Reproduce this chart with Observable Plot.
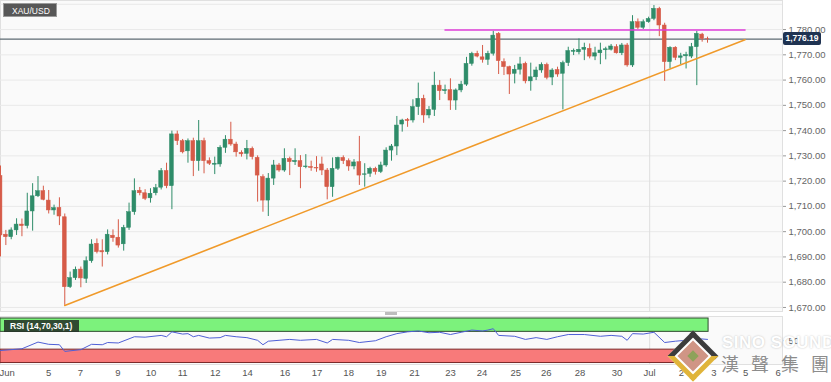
<!DOCTYPE html>
<html><head><meta charset="utf-8">
<script src="https://cdn.jsdelivr.net/npm/d3@7"></script>
<script src="https://cdn.jsdelivr.net/npm/@observablehq/plot@0.6"></script>
<style>
body{margin:0;background:#fff;}
#wrap{position:relative;width:831px;height:382px;overflow:hidden;font-family:"Liberation Sans",Arial,sans-serif;}
#main,#rsi{position:absolute;left:0;}
#main{top:0}
#rsi{top:316px}
.sym{position:absolute;left:3px;top:3px;width:54px;height:14px;background:#575757;color:#fff;font-size:8.5px;line-height:14px;padding-left:8px;box-sizing:border-box;border:1px solid #9a9a9a;}
.rsilbl{position:absolute;left:4px;top:320px;width:75px;height:12px;background:rgba(38,50,40,0.88);color:#fff;font-size:8.5px;font-weight:bold;line-height:12px;padding-left:6px;box-sizing:border-box;}
.handle{position:absolute;left:385px;top:312px;width:12px;height:3px;background:#bdbdbd;}
.tag{position:absolute;left:783px;width:38px;height:13px;background:#1f3352;color:#fff;font-size:8.5px;font-weight:bold;line-height:13px;text-align:center;border-radius:2px;}
.logo{position:absolute;left:675px;top:338px;width:22px;height:22px;transform:rotate(45deg);border:5px solid;border-color:#3c3c3c #e0b43a #e0b43a #3c3c3c;background:#fff;padding:2px;box-sizing:content-box;}
.logo .in{width:22px;height:22px;background:#d09585;position:relative;}
.logo .in div{position:absolute;left:7px;top:7px;width:8px;height:8px;background:#8ea25a;}
.wm1{position:absolute;left:722px;top:333px;font-size:17px;font-weight:bold;color:#fff;text-shadow:0 0 2px rgba(0,0,0,0.25);white-space:nowrap;letter-spacing:0.5px;}
.wm2{position:absolute;left:721px;top:350px;font-size:18px;color:#8c8c8c;font-family:"Noto Sans CJK TC",sans-serif;white-space:nowrap;letter-spacing:12px;text-shadow:0 0 2px #fff;}
</style>
</head><body>
<div id="wrap">
  <div id="main"></div>
  <div id="rsi"></div>
</div>
<script>
// ---- data (4-hour XAU/USD candles) ----
const symbol = "XAU/USD";
const open = [1722,1698.8,1697.8,1700.5,1702.8,1702.2,1708,1714,1716,1712.3,
1708.4,1709.4,1705.7,1678,1681.6,1685,1681.3,1688.3,1695.2,1692.3,
1691.9,1698.4,1697.6,1695,1701.5,1707.7,1716.2,1715.2,1713.2,1715.2,
1717.4,1724,1718,1738.5,1735.8,1731.8,1735.8,1727.9,1735.8,1727.9,
1726.5,1726.6,1733.2,1736.4,1734.5,1731.2,1730.8,1732.8,1729.2,1721.6,
1712.3,1721,1726.2,1724.2,1728.8,1727.5,1727.9,1725.5,1725.6,1725.2,
1726.6,1724.2,1717.6,1724.9,1729.2,1727.9,1725.8,1727.5,1722.5,1722.9,
1724.9,1723.6,1726.2,1732.1,1733.7,1742.4,1744.2,1744,1749.3,1752.6,
1746,1748.2,1757.8,1755.6,1756,1751.9,1755.9,1758.2,1766.4,1770.4,
1769,1768,1770.4,1778.3,1767.1,1765.1,1762.5,1764.1,1766.4,1759.5,
1761.1,1763.8,1766,1761,1764,1762.5,1766.7,1771.2,1771,1772,
1772.4,1769.3,1770.6,1771.8,1772,1773,1770.6,1773.7,1765.8,1782.9,
1780.7,1782.9,1784.2,1788.2,1781.6,1767.1,1772.8,1768.8,1769.4,1769.3,
1773,1778,1776.3];
const high = [1726,1700.5,1701.5,1705.1,1705,1715.2,1719,1721.8,1718,1716.3,
1710.5,1713.4,1707,1684,1686,1686,1690,1696.8,1697.1,1696.8,
1700.7,1700.7,1704.7,1702.5,1711.3,1720.9,1717.5,1716.6,1717,1718.7,
1725,1727.1,1739.8,1739.8,1736.5,1736.7,1737,1744,1737,1729.2,
1729.5,1734,1738,1743.3,1735.4,1732,1736.1,1733.5,1730,1722.5,
1723,1728.2,1727,1732.8,1729.5,1732.8,1730.1,1730.5,1727.9,1729.7,
1729.5,1725,1729.2,1729.5,1730,1728.8,1728.5,1737.7,1726.9,1725.5,
1725.5,1727.5,1733.2,1734.5,1745.6,1744.5,1744.8,1752.2,1758.8,1754,
1749.5,1763.1,1759.8,1758,1760.5,1756.5,1759.5,1769,1771,1771.4,
1773.7,1771.4,1779.3,1778.8,1768.4,1765.5,1765.8,1769,1767.1,1766.7,
1765.1,1766.8,1766.7,1764.5,1765.1,1767.5,1773,1772.3,1776.3,1774.6,
1774.3,1773,1774.6,1773,1774.1,1774,1774.5,1774.5,1785.5,1784.2,
1783.8,1784.9,1789.5,1788.8,1782.5,1773.2,1773.2,1770.6,1771,1774.5,
1779.3,1778.5,1777];
const low = [1690,1694.5,1696.8,1698.5,1698,1701.1,1700.2,1713.5,1712.2,1707,
1706.5,1702.4,1670.8,1677.5,1680.7,1677.8,1679.5,1687.5,1691.2,1686,
1690.8,1695.8,1693.5,1692.3,1700.5,1706.5,1714.2,1712.3,1711.3,1714.2,
1716.5,1717,1708.7,1734.1,1730.8,1727.1,1721.8,1723.9,1722.9,1726.2,
1722.6,1725.5,1731,1733.8,1729.5,1729.5,1728.4,1728.4,1711.7,1707.7,
1706,1718.3,1723.5,1723.5,1722.2,1726.2,1717,1724.9,1723.9,1723.5,
1722.2,1712.6,1713.6,1724.2,1726.6,1723.9,1724.5,1718.3,1717.6,1721.5,
1722.4,1723,1725.5,1727.9,1730.1,1739.4,1741.3,1743,1746,1742.9,
1744.7,1745.6,1751.9,1754.3,1748,1748,1755,1757.5,1765.5,1768.8,
1766.7,1765.8,1769.5,1762.2,1761.8,1754.3,1758.5,1762,1758.5,1755.6,
1759.8,1762.7,1760.1,1757.8,1761.1,1748.2,1765.4,1769.7,1770,1767.7,
1768.4,1767.7,1766.1,1768,1771.5,1770.3,1769.7,1765.1,1765,1780,
1780,1782.5,1783.5,1777.2,1759.5,1764.5,1767.7,1766.1,1764.4,1768.5,
1757.8,1775,1774.6];
const close = [1698.5,1697.8,1700.5,1702.8,1702.2,1708,1714,1716,1712.6,1708.4,
1709.3,1706,1678,1681.6,1684.9,1681.5,1688.3,1694.9,1691.9,1691.8,
1698.8,1697.4,1694.5,1701.5,1707.7,1716,1715.2,1713,1715,1717.2,
1724,1718,1738.5,1735.8,1731.4,1735.8,1727.9,1735.8,1727.9,1726.9,
1726.9,1733.2,1736.4,1734.5,1731.4,1730.6,1732.8,1729.5,1722.2,1712.3,
1721,1726.2,1724.2,1728.8,1727.5,1728,1725.5,1725.8,1725.2,1725,
1724.2,1717.6,1724.9,1729.2,1727.9,1725.8,1727.4,1722.2,1722.7,1724.9,
1723.6,1726.2,1732.1,1733.7,1742,1744,1743.8,1749.3,1752.6,1746,
1748.2,1757.8,1755.6,1756,1751.9,1755.9,1758.2,1766.4,1770.4,1769.3,
1768,1770.4,1777.6,1767.5,1765.1,1762.2,1764.1,1766.2,1759.5,1761.1,
1763.8,1766,1760.9,1763.8,1762.2,1766.7,1771.5,1771.6,1772,1772.8,
1769.3,1770.6,1771.7,1772.2,1773.3,1770.6,1773.7,1765.8,1782.9,1780.7,
1782.9,1784.2,1788.2,1781.6,1767.1,1772.8,1768.8,1769.4,1769.9,1773,
1778.3,1776.3,1776.19];

// drawn study lines (candle index, price)
const resistIdx = [83, 139];
const resistVal = [1779.8, 1779.8];
const trendIdx = [12, 139];
const trendVal = [1670.8, 1776.0];

// RSI (14) readings
const rsiIdx = [0,4,7,9,11,12,15,17,19,20,22,25,27,30,31,32,34,35,36,37,39,41,42,44,46,48,49,50,52,54,56,59,61,62,65,67,70,72,74,76,78,80,82,84,86,88,90,91,92,93,96,98,100,102,104,106,109,112,114,116,117,118,120,122,124,126,128,130,132];
const rsiVal = [28,32,47,42,41,26,30,42,41,46,45,59,58,62,59,70,65,66,59,62,56,57,62,59,57,51,41,49,51,53,51,53,45,53,51,46,50,59,66,70,72,68,69,64,69,74,72,74,77,62,60,53,57,53,59,64,64,60,62,60,51,66,65,69,46,49,51,55,53];
const rsiLevels = [30, 70];

// axis ticks
const priceTicks = [1670,1680,1690,1700,1710,1720,1730,1740,1750,1760,1770,1780];
const gridLevels = [1670,1680,1690,1700,1710,1720,1730,1740,1750,1760,1770,1780,1790];
const dateIdx = [1.25,9,14.9,21.9,28.1,34,40.1,46.1,53.1,59.1,65,71.1,77.3,84,89.9,96.2,101.9,108.2,115.1,121.2,127.1,133.2,139.1,145.2];
const dateLbl = ["Jun","5","7","9","10","11","12","14","16","17","18","19","21","23","24","25","26","28","30","Jul","2","3","5","6"];
const monthIdx = [121.2];
const rsiTicks = [0, 50];

// ---- build ----
const candles = open.map((o, i) => ({i, o, h: high[i], l: low[i], c: close[i]}));
const GREEN = "#2e8c69", RED = "#d65b48";
const col = d => d.c >= d.o ? GREEN : RED;
const xDomain = [0, 146];
const font = {fontFamily: "'Liberation Sans', Arial, sans-serif", fontSize: "9.5px", color: "#5a5a5a", background: "transparent", overflow: "visible"};
const lastPrice = close[close.length - 1];
const resist = resistIdx.map((x, k) => ({x, y: resistVal[k]}));
const trend = trendIdx.map((x, k) => ({x, y: trendVal[k]}));
const rsi = rsiIdx.map((x, k) => ({x, y: rsiVal[k]}));
const lblMap = new Map(dateIdx.map((d, k) => [d, dateLbl[k]]));
const lastIdx = open.length - 1;

const main = Plot.plot({
  width: 831, height: 316, marginLeft: 0, marginRight: 49, marginTop: 0, marginBottom: 5,
  x: {domain: xDomain, axis: null},
  y: {domain: [1668.4, 1791.5], axis: null},
  color: {type: "identity"},
  style: font,
  marks: [
    Plot.frame({fill: "#fafafa", stroke: "#e0e0e0"}),
    Plot.ruleY(gridLevels, {stroke: "#e9e9e9"}),
    Plot.ruleX(monthIdx, {stroke: "#dedede"}),
    Plot.ruleY([lastPrice], {stroke: "#5d6a72", strokeWidth: 1.3}),
    Plot.ruleX(candles, {x: "i", y1: "l", y2: "h", stroke: col, strokeWidth: 1}),
    Plot.rect(candles, {x1: d => d.i - 0.36, x2: d => d.i + 0.36, y1: "o", y2: "c", fill: col, stroke: col, strokeWidth: 0.5}),
    Plot.line(resist, {x: "x", y: "y", stroke: "#e03fd9", strokeWidth: 1.6}),
    Plot.line(trend, {x: "x", y: "y", stroke: "#f09a2a", strokeWidth: 1.6}),
    Plot.axisY(priceTicks, {anchor: "right", tickFormat: d3.format(",.2f"), tickSize: 3, tickPadding: 3, stroke: "#999", fill: "#666"})
  ]
});
document.getElementById("main").appendChild(main);

const rsiChart = Plot.plot({
  width: 831, height: 66, marginLeft: 0, marginRight: 49, marginTop: 0, marginBottom: 18,
  x: {domain: xDomain, axis: null},
  y: {domain: [-3.4, 104.5], axis: null},
  style: font,
  marks: [
    Plot.frame({fill: "#fafafa", stroke: "#e0e0e0"}),
    Plot.ruleX(monthIdx, {stroke: "#dedede"}),
    Plot.rect([{x1: 0, x2: lastIdx + 0.2, y1: rsiLevels[1], y2: 100}], {x1: "x1", x2: "x2", y1: "y1", y2: "y2", fill: "#7cf27c", stroke: "#2f4a2f", strokeWidth: 1}),
    Plot.rect([{x1: 0, x2: lastIdx + 0.2, y1: 0, y2: rsiLevels[0]}], {x1: "x1", x2: "x2", y1: "y1", y2: "y2", fill: "#f87a7a", stroke: "#7a2a2a", strokeWidth: 1}),
    Plot.line(rsi, {x: "x", y: "y", stroke: "#4f5fd6", strokeWidth: 1}),
    Plot.axisX(dateIdx, {anchor: "bottom", tickSize: 0, tickPadding: 5, tickFormat: d => lblMap.get(d), fill: "#555"}),
    Plot.axisY(rsiTicks, {anchor: "right", tickSize: 3, tickPadding: 3, stroke: "#999", fill: "#666"})
  ]
});
document.getElementById("rsi").appendChild(rsiChart);

// overlays: labels, price tag, watermark
const wrap = document.getElementById("wrap");
const sym = document.createElement("div"); sym.className = "sym"; sym.textContent = symbol; wrap.appendChild(sym);
const rl = document.createElement("div"); rl.className = "rsilbl"; rl.textContent = "RSI (14,70,30,1)"; wrap.appendChild(rl);
const hd = document.createElement("div"); hd.className = "handle"; wrap.appendChild(hd);
const tag = document.createElement("div"); tag.className = "tag";
tag.textContent = d3.format(",.2f")(lastPrice);
tag.style.top = (main.scale("y").apply(lastPrice) - 6.5) + "px";
wrap.appendChild(tag);
const logo = document.createElement("div"); logo.className = "logo"; logo.innerHTML = '<div class="in"><div></div></div>'; wrap.appendChild(logo);
const w1 = document.createElement("div"); w1.className = "wm1"; w1.textContent = "SINO SOUND"; wrap.appendChild(w1);
const w2 = document.createElement("div"); w2.className = "wm2"; w2.textContent = "漢聲集團"; wrap.appendChild(w2);
</script>
</body></html>
